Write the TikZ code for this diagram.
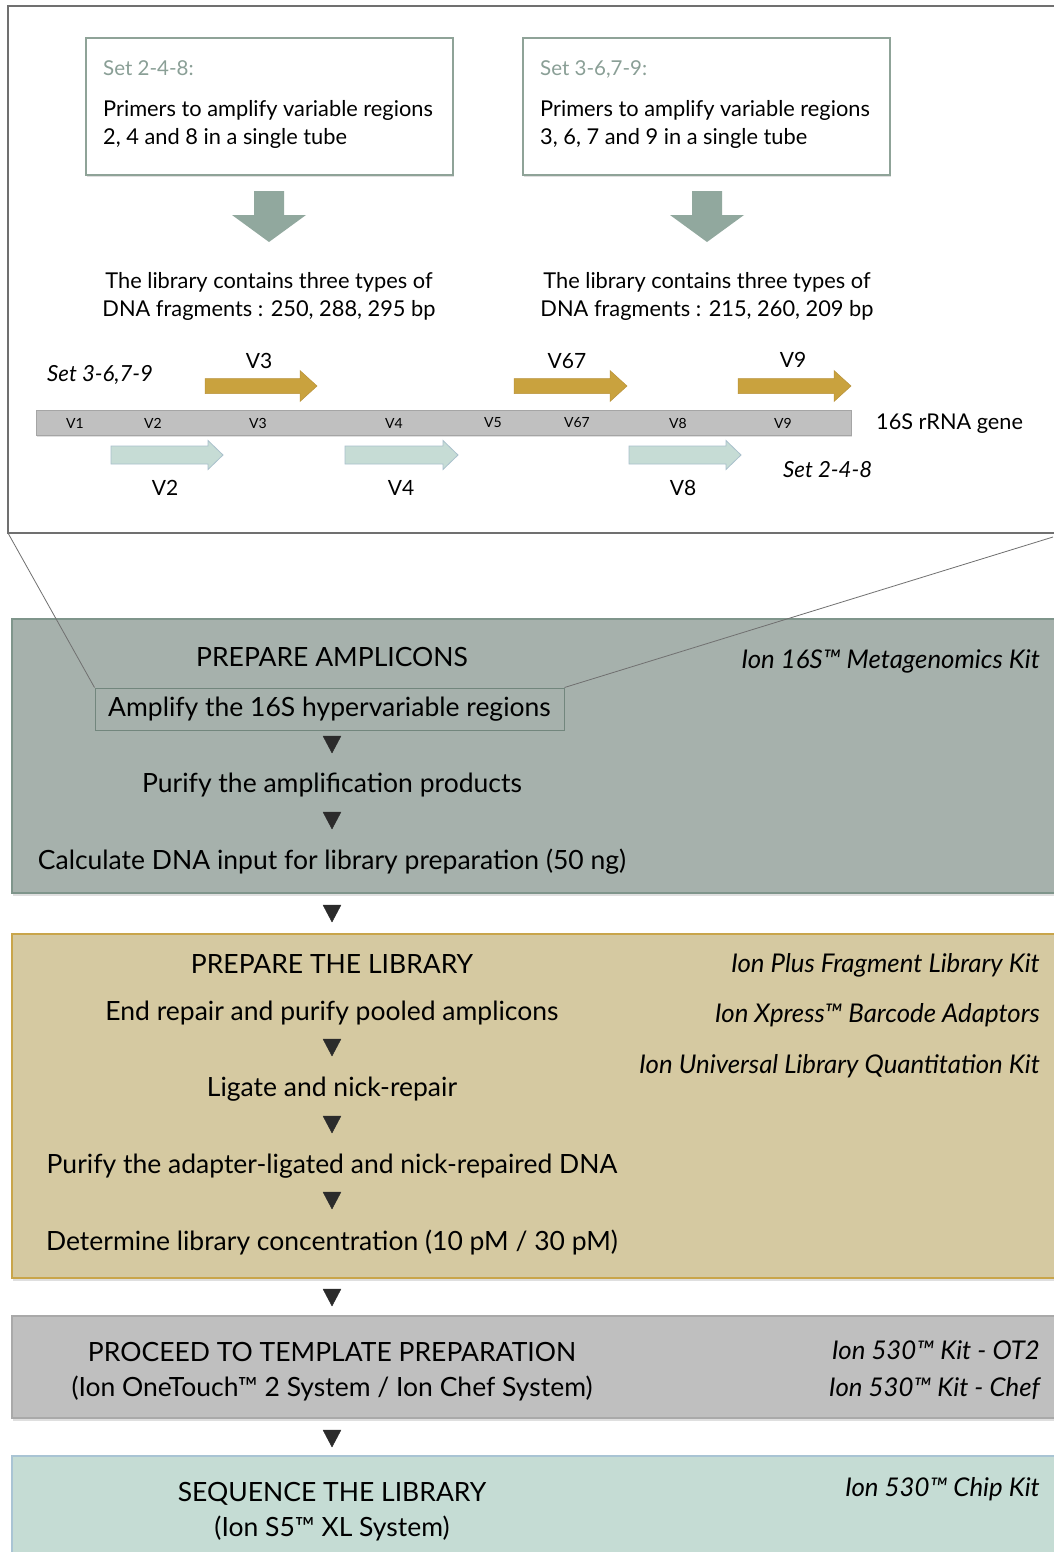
\documentclass[tikz,border=0pt]{standalone}
\usepackage{fontspec}
\setmainfont{Lato}
\usetikzlibrary{shadows}
\definecolor{frameC}{HTML}{707070}
\definecolor{boxC}{HTML}{8FA398}
\definecolor{setC}{HTML}{8A9F96}
\definecolor{bigarrC}{HTML}{91A89E}
\definecolor{goldC}{HTML}{C9A23E}
\definecolor{goldD}{HTML}{B8913A}
\definecolor{lightC}{HTML}{C6DCD5}
\definecolor{lightD}{HTML}{A9C0CC}
\definecolor{geneC}{HTML}{C0C0C0}
\definecolor{geneD}{HTML}{A5A5A5}
\definecolor{p1C}{HTML}{A6B1AC}
\definecolor{p1D}{HTML}{7F958B}
\definecolor{p2C}{HTML}{D5C9A1}
\definecolor{p2D}{HTML}{C9A54A}
\definecolor{p3C}{HTML}{BFBFBF}
\definecolor{p3D}{HTML}{A9A9A9}
\definecolor{p4C}{HTML}{C5DCD4}
\definecolor{p4D}{HTML}{A9C4D4}
\definecolor{triC}{HTML}{2B2B2B}
\tikzset{
  primbox/.style={draw=boxC, line width=2.2pt, fill=white, minimum width=367pt, minimum height=137pt,
    drop shadow={shadow xshift=1pt, shadow yshift=-2pt, opacity=0.25}},
  txt/.style={font=\fontsize{21.8}{28}\selectfont, align=center, inner sep=0pt},
  settxt/.style={font=\fontsize{20.5}{26}\selectfont, text=setC, anchor=base west, inner sep=0pt},
  boxtxt/.style={font=\fontsize{21.8}{28}\selectfont, anchor=base west, inner sep=0pt},
  vsmall/.style={font=\fontsize{14}{16}\selectfont, inner sep=0pt},
  vlab/.style={font=\fontsize{21}{24}\selectfont, inner sep=0pt},
  itl/.style={font=\itshape\fontsize{22.2}{24}\selectfont, inner sep=0pt},
  panel/.style={line width=1.8pt, drop shadow={shadow xshift=1pt, shadow yshift=-2.5pt, opacity=0.25}},
  ptxt/.style={font=\fontsize{26.5}{35}\selectfont, align=center, inner sep=0pt},
  kit/.style={font=\itshape\fontsize{25.8}{28}\selectfont, anchor=east, inner sep=0pt},
  tri/.style={fill=triC, draw=triC, line join=round},
  zoomline/.style={draw=frameC, line width=0.8pt},
}
\newcommand{\mytri}[2]{\fill[tri] (#1-9,#2-8) -- (#1+9,#2-8) -- (#1,#2+9) -- cycle;}
\newcommand{\goldarr}[3]{\draw[fill=goldC, draw=goldD, line width=0.5pt] (#1,#3-7.5) -- (#2-17,#3-7.5) -- (#2-17,#3-15.5) -- (#2,#3) -- (#2-17,#3+15.5) -- (#2-17,#3+7.5) -- (#1,#3+7.5) -- cycle;}
\newcommand{\lightarr}[3]{\draw[fill=lightC, draw=lightD, line width=0.8pt] (#1,#3-9) -- (#2-15,#3-9) -- (#2-15,#3-14.5) -- (#2,#3) -- (#2-15,#3+14.5) -- (#2-15,#3+9) -- (#1,#3+9) -- cycle;}
\newcommand{\bigarr}[1]{\fill[bigarrC] (#1-15,191) -- (#1+15,191) -- (#1+15,215) -- (#1+37,215) -- (#1,242) -- (#1-37,215) -- (#1-15,215) -- cycle;}
\begin{document}
\begin{tikzpicture}[x=1pt,y=-1pt]
\useasboundingbox (0,0) rectangle (1053,1552);
\fill[white] (0,0) rectangle (1053,1552);

% ---------- top frame ----------
\draw[frameC, line width=1.5pt] (1070,6) -- (8,6) -- (8,533) -- (1070,533);
\coordinate (fbl) at (8,533);
\coordinate (fbr) at (1053,537);

% primer boxes
\node[primbox] (b1) at (269.5,106.5) {};
\node[primbox] (b2) at (706.5,106.5) {};
\node[settxt] (b1s) at (103,76) {Set 2-4-8:};
\node[boxtxt] (b1t) at (103,117) {Primers to amplify variable regions};
\node[boxtxt] (b1u) at (103,145) {2, 4 and 8 in a single tube};
\node[settxt] (b2s) at (540,76) {Set 3-6,7-9:};
\node[boxtxt] (b2t) at (540,117) {Primers to amplify variable regions};
\node[boxtxt] (b2u) at (540,145) {3, 6, 7 and 9 in a single tube};

\bigarr{269}
\bigarr{707}

\node[txt] (l1) at (269,296) {The library contains three types of\\DNA fragments : 250, 288, 295 bp};
\node[txt] (l2) at (707,296) {The library contains three types of\\DNA fragments : 215, 260, 209 bp};

% gene
\node[itl, anchor=west] (s369) at (47,375) {Set 3-6,7-9};
\node[itl, anchor=west] (s248) at (783,470) {Set 2-4-8};
\draw[fill=geneC, draw=geneD, line width=1pt, drop shadow={shadow xshift=1pt, shadow yshift=-1.5pt, opacity=0.25}] (36,410) rectangle (851,435);
\node (gene) at (443.5,422.5) {};
\foreach \x/\t in {75/V1,153/V2,258/V3,394/V4,493/V5,577/V67,678/V8,783/V9}
  \node[vsmall] at (\x,423) {\t};
\node[font=\fontsize{21.7}{24}\selectfont, anchor=west, inner sep=0pt] (glab) at (876,424) {16S rRNA gene};

\goldarr{205}{317}{386}
\goldarr{514}{627}{386}
\goldarr{738}{851}{386}
\lightarr{111}{223}{455}
\lightarr{345}{458}{455}
\lightarr{629}{741}{455}

\node[vlab] at (259,361) {V3};
\node[vlab] at (567,361) {V67};
\node[vlab] at (793,360) {V9};
\node[vlab] at (165,488) {V2};
\node[vlab] at (401,488) {V4};
\node[vlab] at (683,488) {V8};

% ---------- panel 1 ----------
\draw[panel, fill=p1C, draw=p1D] (12,619) rectangle (1070,893);
\node[ptxt] (p1h) at (332,657) {PREPARE AMPLICONS};
\node[kit] (k1) at (1040,661) {Ion 16S™ Metagenomics Kit};
\node[ptxt, draw=p1D!90!black, line width=1pt, minimum width=469pt, minimum height=42pt] (amp) at (329.5,709) {Amplify the 16S hypervariable regions};
\mytri{332}{744}
\node[ptxt] (pur) at (332,785) {Purify the amplification products};
\mytri{332}{820}
\node[ptxt] (calc) at (332,862) {Calculate DNA input for library preparation (50 ng)};

\draw[zoomline] (fbl) -- (amp.north west);
\draw[zoomline] (fbr) -- (amp.north east);

\mytri{332}{913}

% ---------- panel 2 ----------
\draw[panel, fill=p2C, draw=p2D] (12,934) rectangle (1070,1278);
\node[ptxt] (p2h) at (332,964) {PREPARE THE LIBRARY};
\node[kit] (k21) at (1040,965) {Ion Plus Fragment Library Kit};
\node[kit] (k22) at (1040,1015) {Ion Xpress™ Barcode Adaptors};
\node[kit] (k23) at (1040,1066) {Ion Universal Library Quantitation Kit};
\node[ptxt] (e1) at (332,1013) {End repair and purify pooled amplicons};
\mytri{332}{1047}
\node[ptxt] (e2) at (332,1089) {Ligate and nick-repair};
\mytri{332}{1124}
\node[ptxt] (e3) at (332,1166) {Purify the adapter-ligated and nick-repaired DNA};
\mytri{332}{1200}
\node[ptxt] (e4) at (332,1242) {Determine library concentration (10 pM / 30 pM)};

\mytri{332}{1297}

% ---------- panel 3 ----------
\draw[panel, fill=p3C, draw=p3D] (12,1316) rectangle (1070,1418);
\node[ptxt] (p3h) at (332,1372) {PROCEED TO TEMPLATE PREPARATION\\(Ion OneTouch™ 2 System / Ion Chef System)};
\node[kit] (k31) at (1040,1350) {Ion 530™ Kit - OT2};
\node[kit] (k32) at (1040,1389) {Ion 530™ Kit - Chef};

\mytri{332}{1438}

% ---------- panel 4 ----------
\draw[panel, fill=p4C, draw=p4D] (12,1456) rectangle (1070,1580);
\node[ptxt] (p4h) at (332,1512) {SEQUENCE THE LIBRARY\\(Ion S5™ XL System)};
\node[kit] (k4) at (1040,1489) {Ion 530™ Chip Kit};
\end{tikzpicture}
\end{document}
